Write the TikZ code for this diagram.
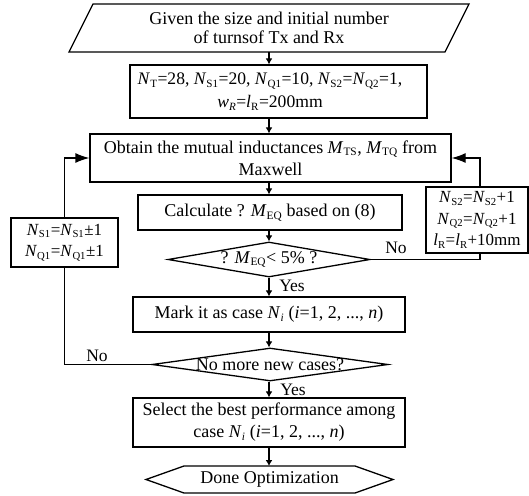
\documentclass[tikz,border=0pt]{standalone}
\usepackage{fontspec}
\setmainfont{Liberation Serif}
\usetikzlibrary{arrows.meta,shapes.geometric}
\makeatletter
\renewcommand\defaultscriptratio{.63}
\makeatother
\newcommand{\sbs}[1]{\textsubscript{#1}}
\newcommand{\iv}[1]{\textit{#1}}
\begin{document}
\begin{tikzpicture}[x=1pt,y=-1pt, line width=1.3pt,
  box/.style={draw, rectangle, inner sep=0pt},
  txt/.style={align=center, inner sep=0pt, font=\fontsize{18}{22}\selectfont},
  sidetxt/.style={align=center, inner sep=0pt, font=\fontsize{17}{21.5}\selectfont},
  lbl/.style={inner sep=0pt, font=\fontsize{17.5}{20}\selectfont},
  dia/.style={draw, diamond, inner sep=0pt, aspect=5.8, font=\fontsize{18}{22}\selectfont},
  arr/.style={-{Latex[length=6pt,width=7pt]}},
  bigarr/.style={-{Latex[length=14pt,width=10pt]}}]
\useasboundingbox (0,0) rectangle (529,495);

% start parallelogram
\draw (69,52) -- (445,52) -- (469,4) -- (93,4) -- cycle;
\node[txt, font=\fontsize{18}{19.5}\selectfont] (given) at (269,28) {Given the size and initial number\\of turnsof Tx and Rx};
\coordinate (parS) at (269,52);

% initial values
\node[box, minimum width=297pt, minimum height=53pt] (b2) at (278.5,91.5) {};
\node[txt, font=\fontsize{17.6}{23}\selectfont] (b2t) at (270,91.5) {\iv{N}\sbs{T}=28, \iv{N}\sbs{S1}=20, \iv{N}\sbs{Q1}=10, \iv{N}\sbs{S2}=\iv{N}\sbs{Q2}=1,\\\iv{w}\sbs{\iv{R}}=\iv{l}\sbs{R}=200mm};

% maxwell
\node[box, txt, minimum width=361pt, minimum height=48pt] (b3) at (270.5,158) {Obtain the mutual inductances \iv{M}\sbs{TS}, \iv{M}\sbs{TQ} from\\Maxwell};

% calculate
\node[box, txt, minimum width=264pt, minimum height=35pt] (calc) at (270,212.5) {Calculate ? \iv{M}\sbs{EQ} based on (8)};

% decision 1
\node[dia, minimum width=202pt, minimum height=35pt] (d1) at (269,259.5) {\makebox[0pt]{? \iv{M}\sbs{EQ}< 5\% ?}};

% mark
\node[box, txt, minimum width=272pt, minimum height=35pt] (mark) at (269,314.5) {Mark it as case \iv{N}\sbs{\iv{i}} (\iv{i}=1, 2, ..., \iv{n})};

% decision 2
\node[dia, minimum width=236pt, minimum height=33pt] (d2) at (270,364.5) {\makebox[0pt]{No more new cases?}};

% select
\node[box, txt, minimum width=272pt, minimum height=49pt] (sel) at (269,422.5) {Select the best performance among\\case \iv{N}\sbs{\iv{i}} (\iv{i}=1, 2, ..., \iv{n})};

% end hexagon
\draw (146,479.5) -- (184,466) -- (355,466) -- (393,479.5) -- (355,493) -- (184,493) -- cycle;
\node[txt] (done) at (269.5,479.5) {Done Optimization};
\coordinate (hexN) at (269,466);

% side boxes
\node[box, sidetxt, minimum width=107pt, minimum height=49pt] (L) at (64.5,242.5) {\iv{N}\sbs{S1}=\iv{N}\sbs{S1}±1\\\iv{N}\sbs{Q1}=\iv{N}\sbs{Q1}±1};
\node[box, sidetxt, minimum width=102pt, minimum height=66pt] (R) at (477,220) {\iv{N}\sbs{S2}=\iv{N}\sbs{S2}+1\\\iv{N}\sbs{Q2}=\iv{N}\sbs{Q2}+1\\\iv{l}\sbs{R}=\iv{l}\sbs{R}+10mm};

% main flow
\draw[arr] (parS) -- (parS |- b2.north);
\draw[arr] (parS |- b2.south) -- (parS |- b3.north);
\draw[arr] (parS |- b3.south) -- (parS |- calc.north);
\draw[arr] (parS |- calc.south) -- (d1.north);
\draw[arr] (d1.south) -- (d1.south |- mark.north);
\draw[arr] (d1.south |- mark.south) -- (d1.south |- d2.north);
\draw[arr] (d1.south |- d2.south) -- (d1.south |- sel.north);
\draw[arr] (d1.south |- sel.south) -- (hexN);

% loops
\draw (d1.east) -| ([xshift=3pt]R.south);
\draw[bigarr] ([xshift=3pt]R.north) |- (b3.east);
\draw (d2.west) -| (L.south);
\draw[bigarr] (L.north) |- (b3.west);

% labels
\node[lbl] (no1) at (396,248) {No};
\node[lbl] (yes1) at (292,286) {Yes};
\node[lbl] (no2) at (97,356) {No};
\node[lbl] (yes2) at (293,390) {Yes};
\end{tikzpicture}
\end{document}
